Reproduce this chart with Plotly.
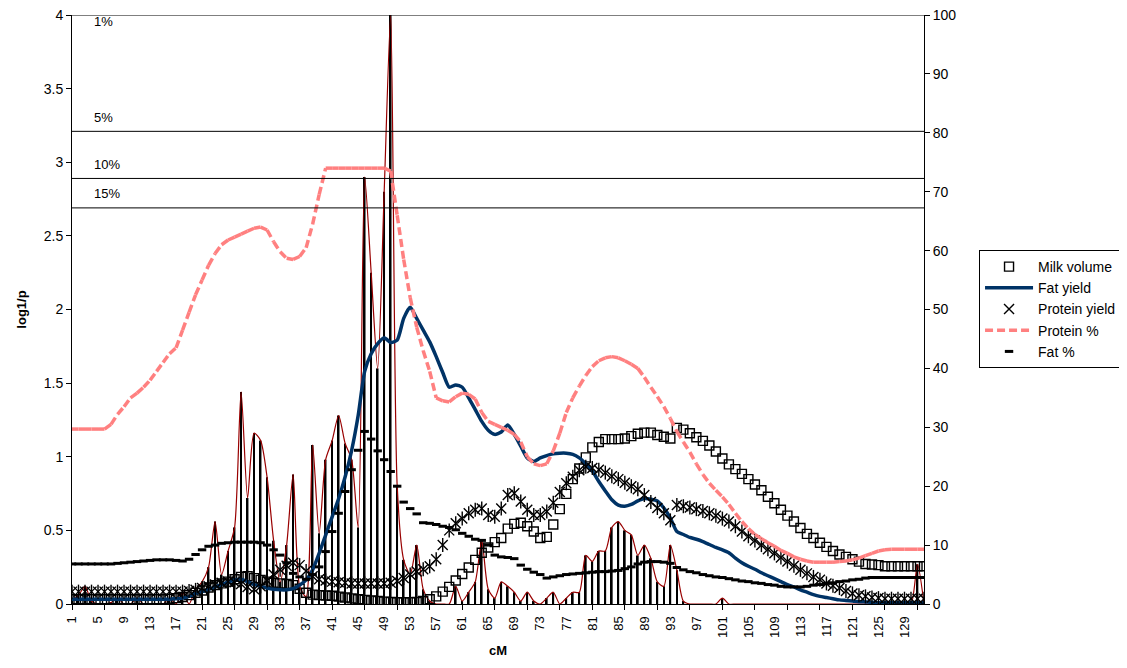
import plotly.graph_objects as go

# ---------------- data ----------------
cM = list(range(1, 133))

log1p = [
    0.03, 0.06, 0.12, 0.02, 0.00, 0.00, 0.01, 0.04, 0.00, 0.00,
    0.04, 0.00, 0.00, 0.00, 0.00, 0.04, 0.00, 0.08, 0.00, 0.10,
    0.15, 0.25, 0.56, 0.20, 0.36, 0.52, 1.44, 0.72, 1.16, 1.11,
    0.86, 0.43, 0.15, 0.40, 0.88, 0.12, 0.05, 1.08, 0.48, 0.98,
    1.11, 1.28, 1.09, 0.98, 0.52, 2.90, 2.25, 1.60, 2.80, 4.00,
    0.80, 0.30, 0.20, 0.40, 0.10, 0.02, 0.00, 0.00, 0.00, 0.12,
    0.02, 0.08, 0.15, 0.43, 0.10, 0.04, 0.15, 0.12, 0.08, 0.02,
    0.08, 0.02, 0.00, 0.04, 0.08, 0.00, 0.04, 0.08, 0.08, 0.33,
    0.29, 0.36, 0.36, 0.52, 0.56, 0.50, 0.47, 0.33, 0.40, 0.31,
    0.15, 0.12, 0.40, 0.23, 0.02, 0.00, 0.00, 0.00, 0.00, 0.00,
    0.04, 0.00, 0.00, 0.00, 0.00, 0.00, 0.00, 0.00, 0.00, 0.00,
    0.00, 0.00, 0.00, 0.00, 0.00, 0.00, 0.00, 0.00, 0.00, 0.00,
    0.00, 0.00, 0.00, 0.00, 0.00, 0.00, 0.00, 0.00, 0.00, 0.00,
    0.27, 0.00,
]

milk_volume = [
    0.8, 0.8, 0.8, 0.8, 0.8, 0.8, 0.8, 0.8, 0.8, 0.8,
    0.8, 0.8, 0.8, 0.8, 0.8, 0.9, 1.0, 1.2, 1.5, 1.9,
    2.3, 2.8, 3.2, 3.5, 3.8, 4.2, 4.6, 4.7, 4.4, 4.1,
    3.8, 3.6, 3.5, 3.4, 3.2, 2.6, 1.9, 1.6, 1.5, 1.45,
    1.4, 1.25, 1.1, 0.95, 0.8, 0.7, 0.6, 0.5, 0.4, 0.35,
    0.3, 0.3, 0.3, 0.35, 0.5, 0.8, 1.3, 2.1, 2.9, 4.0,
    5.1, 6.2, 7.5, 8.7, 9.6, 10.5, 11.2, 12.8, 13.6, 13.8,
    13.2, 12.3, 11.2, 11.4, 13.5, 16.1, 18.7, 21.2, 23.0, 24.9,
    26.6, 27.5, 28.0, 28.0, 28.0, 28.1, 28.5, 28.9, 29.1, 29.1,
    28.7, 28.4, 28.1, 29.9, 29.6, 29.0, 28.3, 27.7, 26.9, 25.9,
    24.7, 23.7, 22.9, 22.1, 21.2, 20.3, 19.3, 18.2, 17.1, 16.0,
    15.0, 14.0, 12.9, 11.9, 11.2, 10.4, 9.7, 9.0, 8.4, 8.0,
    7.6, 7.2, 6.8, 6.7, 6.6, 6.4, 6.4, 6.4, 6.4, 6.4,
    6.4, 6.4,
]

fat_yield = [
    0.8, 0.8, 0.8, 0.8, 0.8, 0.8, 0.8, 0.8, 0.8, 0.8,
    0.8, 0.8, 0.8, 0.8, 0.8, 0.8, 0.9, 1.0, 1.3, 1.8,
    2.1, 2.5, 2.9, 3.3, 3.7, 4.1, 4.2, 3.8, 3.3, 3.0,
    2.7, 2.5, 2.4, 2.4, 2.6, 3.2, 4.1, 5.8, 8.6, 11.7,
    14.8, 17.9, 21.6, 26.1, 32.0, 39.5, 42.5, 44.2, 45.2, 44.4,
    44.8, 48.5, 50.4, 48.5, 46.5, 44.5, 42.0, 39.3, 36.8, 37.2,
    36.8, 35.0, 33.0, 31.0, 29.5, 28.8, 29.2, 30.4, 28.8, 26.8,
    24.8, 24.2, 24.8, 25.2, 25.5, 25.6, 25.6, 25.4, 24.8, 23.8,
    22.6, 20.8, 19.2, 17.7, 16.8, 16.6, 16.9, 17.5, 17.9, 17.8,
    17.5, 16.3, 14.6, 12.3, 11.8, 11.3, 11.0, 10.6, 10.1, 9.6,
    9.2, 8.7, 7.8, 7.0, 6.4, 5.9, 5.3, 4.8, 4.3, 3.8,
    3.3, 2.9, 2.4, 2.0, 1.6, 1.3, 1.1, 0.9, 0.7, 0.6,
    0.5, 0.4, 0.35, 0.3, 0.2, 0.2, 0.2, 0.2, 0.2, 0.2,
    0.2, 0.2,
]

protein_yield = [
    2.1, 2.1, 2.1, 2.1, 2.1, 2.1, 2.1, 2.1, 2.1, 2.1,
    2.1, 2.1, 2.1, 2.1, 2.1, 2.1, 2.1, 2.1, 2.2, 2.4,
    2.7, 3.0, 3.3, 3.6, 3.8, 3.7, 3.4, 2.9, 2.5, 3.0,
    4.0, 5.0, 5.8, 6.5, 7.0, 6.6, 5.6, 4.7, 4.2, 4.0,
    3.8, 3.7, 3.6, 3.5, 3.5, 3.5, 3.5, 3.5, 3.5, 3.6,
    3.9, 4.4, 5.0, 5.5, 5.9, 6.4, 7.6, 10.0, 12.5, 13.7,
    14.5, 15.4, 16.0, 16.2, 15.1, 14.8, 16.2, 18.5, 18.8, 17.4,
    16.0, 15.1, 15.1, 15.7, 17.2, 19.0, 20.5, 21.6, 22.7, 23.3,
    23.1, 22.8, 22.3, 21.7, 21.2, 20.6, 20.0, 19.5, 18.5, 17.3,
    16.3, 15.4, 14.2, 16.8, 16.6, 16.4, 16.1, 15.8, 15.4, 15.0,
    14.5, 14.0, 13.2, 12.3, 11.5, 10.8, 10.0, 9.3, 8.6, 7.9,
    7.2, 6.5, 5.8, 5.2, 4.6, 4.1, 3.5, 3.1, 2.7, 2.2,
    1.8, 1.5, 1.3, 1.1, 1.0, 0.9, 0.9, 0.9, 0.9, 0.9,
    0.9, 0.9,
]

protein_pct = [
    29.7, 29.7, 29.7, 29.7, 29.7, 29.7, 30.5, 32.2, 33.5, 35.0,
    35.8, 36.8, 38.0, 39.5, 41.0, 42.5, 43.5, 46.5, 49.5, 52.5,
    55.0, 57.5, 59.5, 61.0, 61.8, 62.3, 62.8, 63.3, 63.8, 64.0,
    63.5, 61.5, 59.8, 58.7, 58.5, 59.0, 60.5, 64.5, 69.5, 74.0,
    74.0, 74.0, 74.0, 74.0, 74.0, 74.0, 74.0, 74.0, 74.0, 73.5,
    66.0, 58.5, 52.0, 47.0, 43.0, 39.5, 35.0, 34.5, 34.3, 35.2,
    35.8, 35.6, 34.8, 32.5, 31.0, 30.5, 30.0, 29.5, 28.8, 27.5,
    25.0, 23.8, 23.5, 23.8, 26.0, 29.0, 32.5, 35.0, 37.0, 38.8,
    40.3, 41.3, 41.8, 42.0, 41.8, 41.3, 40.7, 40.0, 38.5, 36.8,
    35.2, 33.5, 31.5, 29.3, 27.5, 25.8, 23.8, 22.0, 20.5, 19.3,
    18.2, 16.9, 15.4, 14.0, 12.8, 11.8, 11.1, 10.4, 9.8, 9.1,
    8.6, 8.0, 7.6, 7.3, 7.1, 7.1, 7.1, 7.1, 7.2, 7.3,
    7.5, 7.8, 8.2, 8.6, 9.0, 9.2, 9.3, 9.3, 9.3, 9.3,
    9.3, 9.3,
]

fat_pct = [
    6.8, 6.8, 6.8, 6.8, 6.8, 6.8, 6.8, 6.9, 7.0, 7.1,
    7.2, 7.3, 7.4, 7.5, 7.5, 7.5, 7.4, 7.3, 7.6, 8.4,
    9.2, 9.8, 10.0, 10.3, 10.4, 10.5, 10.5, 10.5, 10.5, 10.4,
    10.0, 9.2, 8.3, 7.0, 5.2, 4.6, 4.2, 5.0, 6.3, 8.9,
    12.3, 15.4, 19.1, 22.8, 26.1, 29.3, 28.0, 26.0, 24.5, 22.5,
    20.0, 17.3, 16.2, 15.3, 13.8, 13.7, 13.5, 13.2, 13.0, 12.6,
    12.0, 11.5, 11.0, 10.8, 10.0, 8.3, 8.0, 7.9, 7.7, 6.6,
    5.9, 5.4, 5.0, 4.4, 4.6, 4.8, 5.0, 5.1, 5.2, 5.3,
    5.4, 5.5, 5.5, 5.6, 5.7, 6.0, 6.3, 6.8, 7.1, 7.2,
    7.2, 7.1, 6.9, 6.2, 5.8, 5.5, 5.3, 5.0, 4.8, 4.6,
    4.5, 4.3, 4.1, 3.9, 3.8, 3.6, 3.5, 3.3, 3.2, 3.0,
    2.9, 2.9, 2.9, 3.0, 3.2, 3.3, 3.5, 3.6, 3.8, 3.9,
    4.1, 4.2, 4.4, 4.5, 4.5, 4.5, 4.5, 4.5, 4.5, 4.5,
    4.5, 4.5,
]

threshold_levels = [4.0, 3.21, 2.89, 2.69]
threshold_labels = ["1%", "5%", "10%", "15%"]

x_label_vals = list(range(1, 130, 4))
x_tick_vals = list(range(1, 132, 5))

# ---------------- figure ----------------
FONT = "Liberation Sans, Arial, sans-serif"
fig = go.Figure()

# drop lines of log1/p
fig.add_trace(go.Bar(
    x=cM, y=log1p, width=0.26, marker=dict(color="black", line=dict(width=0)),
    showlegend=False, hoverinfo="skip", xaxis="x", yaxis="y"))

# smoothed log1/p curve
fig.add_trace(go.Scatter(
    x=cM, y=log1p, mode="lines",
    line=dict(color="#990000", width=1.2, shape="spline", smoothing=0.7),
    showlegend=False, hoverinfo="skip", xaxis="x", yaxis="y"))

# significance thresholds
for lvl in threshold_levels:
    fig.add_trace(go.Scatter(
        x=[cM[0], cM[-1]], y=[lvl, lvl], mode="lines",
        line=dict(color="black", width=1), showlegend=False,
        hoverinfo="skip", xaxis="x2", yaxis="y"))

for lvl, lab in zip(threshold_levels, threshold_labels):
    at_top = lvl >= 3.99
    fig.add_annotation(
        x=4, y=lvl, xref="x", yref="y", text=lab, showarrow=False,
        xanchor="left", yanchor="middle", yshift=(-6 if at_top else 14),
        font=dict(family=FONT, size=13, color="black"))

# Milk volume
fig.add_trace(go.Scatter(
    x=cM, y=milk_volume, mode="markers", name="Milk volume",
    marker=dict(symbol="square-open", size=9, color="black",
                line=dict(width=1.4, color="black")),
    xaxis="x", yaxis="y2"))

# Fat yield
fig.add_trace(go.Scatter(
    x=cM, y=fat_yield, mode="lines", name="Fat yield",
    line=dict(color="#003366", width=3.5, shape="spline", smoothing=0.6),
    xaxis="x", yaxis="y2"))

# Protein yield (star marker = x + vertical bar)
fig.add_trace(go.Scatter(
    x=cM, y=protein_yield, mode="markers", name="Protein yield",
    marker=dict(symbol="x-thin", size=10, color="black",
                line=dict(width=1.4, color="black")),
    xaxis="x", yaxis="y2"))
fig.add_trace(go.Scatter(
    x=cM, y=protein_yield, mode="markers", showlegend=False, hoverinfo="skip",
    marker=dict(symbol="line-ns", size=10, color="black",
                line=dict(width=1.4, color="black")),
    xaxis="x", yaxis="y2"))

# Protein % : dash pattern restarting on every segment (as in the original)
seg_x, seg_y = [], []
for i in range(len(cM) - 1):
    seg_x += [cM[i], cM[i + 1], None]
    seg_y += [protein_pct[i], protein_pct[i + 1], None]
fig.add_trace(go.Scatter(
    x=seg_x, y=seg_y, mode="lines", name="Protein %", connectgaps=False,
    line=dict(color="#FF8080", width=3.5, dash="8px,4px"),
    xaxis="x", yaxis="y2"))

# Fat %
fig.add_trace(go.Scatter(
    x=cM, y=fat_pct, mode="markers", name="Fat %",
    marker=dict(symbol="line-ew", size=6, color="black",
                line=dict(width=3, color="black")),
    xaxis="x", yaxis="y2"))

axis_font = dict(family=FONT, size=14, color="black")

# the page body adds an 8px offset, so the figure is 8px smaller
fig.update_layout(
    width=1119, height=660,
    margin=dict(l=64, r=203, t=7, b=64, autoexpand=False),
    paper_bgcolor="white", plot_bgcolor="white",
    font=dict(family=FONT, size=14, color="black"),
    barmode="overlay",
    xaxis=dict(
        range=[cM[0], cM[-1]], tickmode="array",
        tickvals=x_label_vals, ticktext=[str(v) for v in x_label_vals],
        tickangle=-90, ticks="outside", ticklen=6, tickcolor="rgba(0,0,0,0)",
        tickfont=dict(family=FONT, size=13, color="black"),
        showline=True, linecolor="black", linewidth=1, automargin=False,
        showgrid=False, zeroline=False, ticklabeloverflow="allow",
        title=dict(text="<b>cM</b>", font=dict(family=FONT, size=13, color="black"),
                   standoff=8),
    ),
    xaxis2=dict(
        overlaying="x", anchor="y", side="bottom", automargin=False,
        range=[cM[0], cM[-1]], tickmode="array", tickvals=x_tick_vals,
        ticks="outside", ticklen=5, tickcolor="black", showticklabels=False,
        showline=False, showgrid=False, zeroline=False,
    ),
    yaxis=dict(
        range=[0, 4], dtick=0.5, ticks="outside", ticklen=5, tickcolor="black",
        tickfont=axis_font, showline=True, linecolor="black", linewidth=1,
        showgrid=False, zeroline=False, ticklabeloverflow="allow", automargin=False,
        title=dict(text="<b>log1/p</b>", font=dict(family=FONT, size=13, color="black"),
                   standoff=14),
    ),
    yaxis2=dict(
        overlaying="y", side="right", anchor="x", automargin=False,
        range=[0, 100], dtick=10, ticks="outside", ticklen=5, tickcolor="black",
        tickfont=axis_font, showline=True, linecolor="black", linewidth=1,
        showgrid=False, zeroline=False, ticklabeloverflow="allow",
    ),
    legend=dict(
        x=1.0646, y=0.601, xanchor="left", yanchor="top",
        bgcolor="white", bordercolor="black", borderwidth=1,
        font=dict(family=FONT, size=14, color="black"),
        itemwidth=48, traceorder="normal",
    ),
    showlegend=True,
)

fig.write_html("out.html")
